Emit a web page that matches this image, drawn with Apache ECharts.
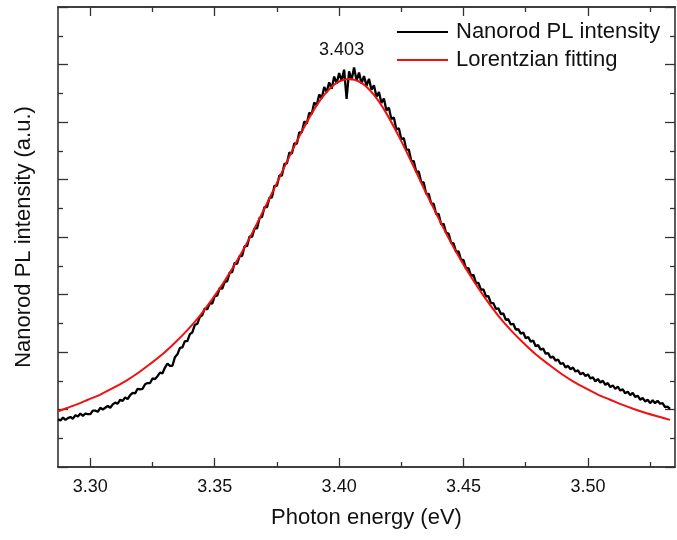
<!DOCTYPE html>
<html>
<head>
<meta charset="utf-8">
<script src="https://cdn.jsdelivr.net/npm/echarts@6/dist/echarts.min.js"></script>
<style>html,body{margin:0;padding:0;background:#fff}#c{width:677px;height:540px}</style>
</head>
<body>
<div id="c"></div>
<script>
// ---- data ----
const plEnergyStart = 3.287;
const plEnergyStep = 0.001;
const plIntensity = [
0.83,0.81,0.86,0.82,0.85,0.87,0.84,0.90,0.88,0.93,
0.89,0.93,0.92,0.92,0.98,0.98,0.96,1.03,1.00,1.03,
1.06,1.03,1.09,1.12,1.10,1.17,1.15,1.21,1.18,1.25,
1.29,1.28,1.36,1.35,1.36,1.44,1.46,1.46,1.54,1.53,
1.58,1.64,1.63,1.73,1.80,1.76,1.76,1.91,1.96,2.07,
2.08,2.19,2.19,2.31,2.34,2.47,2.49,2.61,2.64,2.76,
2.74,2.85,2.84,2.97,2.98,3.11,3.10,3.22,3.23,3.38,
3.39,3.55,3.53,3.67,3.67,3.84,3.84,4.01,4.00,4.15,
4.15,4.33,4.35,4.52,4.52,4.68,4.69,4.89,4.89,5.07,
5.07,5.27,5.28,5.47,5.45,5.63,5.62,5.82,5.82,6.01,
5.97,6.16,6.14,6.34,6.29,6.48,6.41,6.61,6.52,6.69,
6.58,6.79,6.67,6.85,6.72,6.91,6.40,6.88,6.73,6.95,
6.72,6.86,6.67,6.80,6.63,6.75,6.56,6.64,6.44,6.52,
6.33,6.41,6.20,6.25,6.05,6.08,5.87,5.89,5.70,5.72,
5.52,5.52,5.32,5.32,5.13,5.14,4.95,4.95,4.75,4.75,
4.58,4.58,4.40,4.40,4.22,4.23,4.07,4.06,3.90,3.89,
3.74,3.75,3.60,3.60,3.45,3.46,3.33,3.34,3.20,3.20,
3.08,3.09,2.97,2.97,2.85,2.85,2.75,2.76,2.66,2.67,
2.56,2.57,2.48,2.49,2.39,2.40,2.32,2.34,2.24,2.26,
2.18,2.20,2.10,2.12,2.04,2.06,1.97,1.98,1.90,1.92,
1.85,1.87,1.79,1.81,1.73,1.76,1.70,1.73,1.66,1.68,
1.61,1.64,1.58,1.61,1.54,1.56,1.49,1.53,1.47,1.50,
1.43,1.46,1.39,1.42,1.36,1.40,1.33,1.35,1.28,1.31,
1.25,1.29,1.22,1.24,1.17,1.20,1.14,1.17,1.11,1.16,
1.11,1.15,1.10,1.11,1.04,1.05,1.01
];
const fitEnergy = [3.287,3.289,3.294,3.299,3.304,3.309,3.314,3.319,3.324,3.329,3.334,3.339,3.344,3.349,3.354,3.359,3.364,3.369,3.374,3.379,3.384,3.389,3.394,3.399,3.404,3.409,3.414,3.419,3.424,3.429,3.434,3.439,3.444,3.449,3.454,3.459,3.464,3.469,3.474,3.479,3.484,3.489,3.494,3.499,3.504,3.509,3.514,3.519,3.524,3.529,3.533];
const fitIntensity = [0.97,1.00,1.08,1.17,1.26,1.37,1.49,1.63,1.79,1.96,2.16,2.38,2.63,2.92,3.24,3.59,3.98,4.41,4.85,5.31,5.75,6.15,6.47,6.68,6.75,6.68,6.47,6.15,5.75,5.31,4.85,4.41,3.98,3.59,3.24,2.92,2.63,2.38,2.16,1.96,1.79,1.63,1.49,1.37,1.26,1.17,1.08,1.00,0.93,0.87,0.82];
const xMajorTicks = [3.30, 3.35, 3.40, 3.45, 3.50];
const xMinorTicks = [3.325, 3.375, 3.425, 3.475, 3.525];
const xRange = [3.287, 3.535];
const yRange = [0, 8];
const peakLabel = {energy: 3.401, intensity: 7.25, text: '3.403'};
const seriesNames = ['Nanorod PL intensity', 'Lorentzian fitting'];
const xTitle = 'Photon energy (eV)';
const yTitle = 'Nanorod PL intensity (a.u.)';

// ---- chart ----
const FONT = 'Liberation Sans, Arial, Helvetica, sans-serif';
const AXC = '#333';
const plData = plIntensity.map((v, i) => [plEnergyStart + i * plEnergyStep, v]);
const fitData = fitEnergy.map((e, i) => [e, fitIntensity[i]]);

function xAx(pos, ticks, len, labels) {
  return {
    type: 'value', position: pos, min: xRange[0], max: xRange[1],
    axisLine: {show: true, onZero: false, lineStyle: {color: AXC, width: 1.6}},
    axisTick: {show: true, inside: true, length: len, customValues: ticks, lineStyle: {color: AXC, width: 1.3}},
    axisLabel: labels ? {show: true, customValues: ticks, formatter: v => v.toFixed(2), fontSize: 18, color: '#111', fontFamily: FONT, margin: 11} : {show: false},
    splitLine: {show: false}
  };
}
function yAx(pos) {
  return {
    type: 'value', position: pos, min: yRange[0], max: yRange[1], interval: 1,
    axisLine: {show: true, onZero: false, lineStyle: {color: AXC, width: 1.6}},
    axisTick: {show: true, inside: true, length: 10, lineStyle: {color: AXC, width: 1.3}},
    minorTick: {show: true, splitNumber: 2, length: 5, lineStyle: {color: AXC, width: 1.3}},
    axisLabel: {show: false}, splitLine: {show: false}, minorSplitLine: {show: false}
  };
}
const xa0 = xAx('bottom', xMajorTicks, 9, true);
xa0.name = xTitle; xa0.nameLocation = 'middle'; xa0.nameGap = 40;
xa0.nameTextStyle = {fontSize: 22, color: '#111', fontFamily: FONT};
const ya0 = yAx('left');
ya0.name = yTitle; ya0.nameLocation = 'middle'; ya0.nameGap = 23;
ya0.nameTextStyle = {fontSize: 22, color: '#111', fontFamily: FONT};

const chart = echarts.init(document.getElementById('c'), null, {renderer: 'canvas'});
chart.setOption({
  animation: false,
  backgroundColor: '#fff',
  grid: {left: 58, right: 2, top: 7, bottom: 73, containLabel: false},
  xAxis: [xa0, xAx('bottom', xMinorTicks, 5, false), xAx('top', xMajorTicks, 9, false), xAx('top', xMinorTicks, 5, false)],
  yAxis: [ya0, yAx('right')],
  legend: {
    orient: 'vertical', left: 397, top: 21, padding: 0, itemWidth: 51, itemHeight: 2, itemGap: 6,
    icon: 'rect',
    textStyle: {fontSize: 22, lineHeight: 22, color: '#111', fontFamily: FONT, padding: [0, 0, 0, 3]},
    data: seriesNames
  },
  series: [
    {name: seriesNames[0], type: 'line', data: plData, symbol: 'none', showSymbol: false,
     lineStyle: {color: '#000', width: 2.3}, itemStyle: {color: '#000'}, z: 2},
    {name: seriesNames[1], type: 'line', data: fitData, symbol: 'none', showSymbol: false, smooth: 0.3,
     lineStyle: {color: '#f01010', width: 2}, itemStyle: {color: '#f01010'}, z: 3,
     markPoint: {symbol: 'circle', symbolSize: 0, silent: true,
       data: [{coord: [peakLabel.energy, peakLabel.intensity], value: peakLabel.text}],
       label: {show: true, position: 'inside', formatter: peakLabel.text, fontSize: 18, color: '#111', fontFamily: FONT}}}
  ]
});
</script>
</body>
</html>
